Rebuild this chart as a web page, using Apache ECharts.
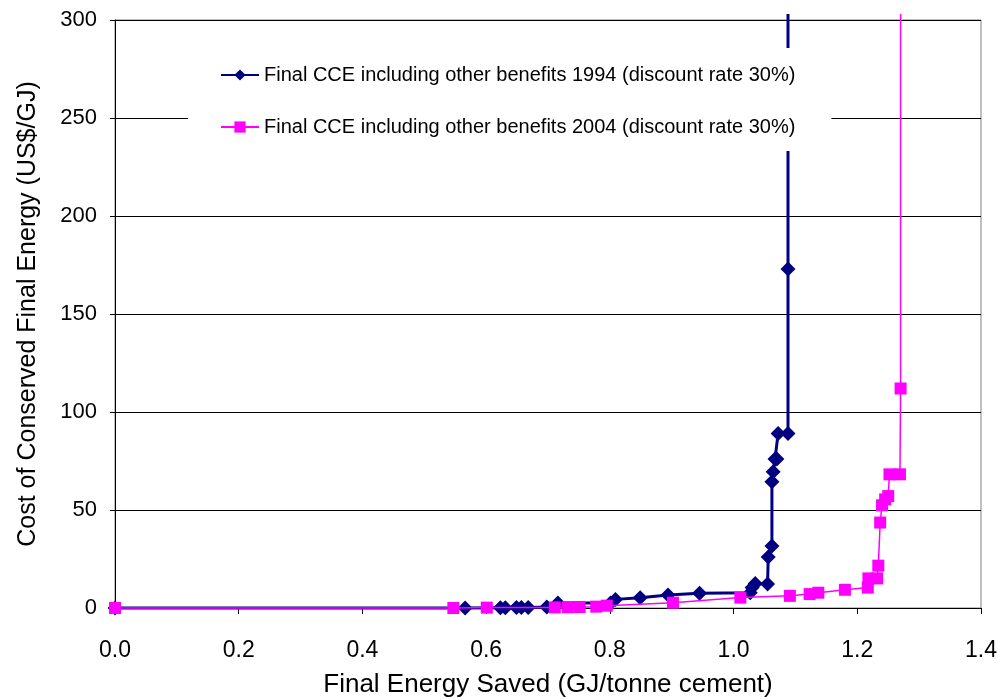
<!DOCTYPE html>
<html>
<head>
<meta charset="utf-8">
<script src="https://cdn.jsdelivr.net/npm/echarts@6/dist/echarts.min.js"></script>
<style>html,body{margin:0;padding:0;background:#fff}#c{width:1002px;height:700px}</style>
</head>
<body>
<div id="c"></div>
<script>
var seriesNames = ['Final CCE including other benefits 1994 (discount rate 30%)', 'Final CCE including other benefits 2004 (discount rate 30%)'];
var xTitle = 'Final Energy Saved (GJ/tonne cement)';
var yTitle = 'Cost of Conserved Final Energy (US$/GJ)';
var blueX = [0, 0.566, 0.623, 0.631, 0.649, 0.657, 0.668, 0.698, 0.716, 0.801, 0.809, 0.849, 0.894, 0.945, 1.027, 1.030, 1.035, 1.055, 1.056, 1.062, 1.062, 1.064, 1.067, 1.070, 1.072, 1.088, 1.088, 1.088];
var blueY = [0, 0, 0.1, 0.1, 0.2, 0.2, 0.3, 0.5, 2.5, 2.5, 4.4, 5.2, 6.6, 7.5, 7.8, 10.5, 12.5, 12.2, 26, 31.6, 64.4, 69.5, 76, 76, 89, 89, 173, 303];
var pinkX = [0, 0.547, 0.601, 0.711, 0.732, 0.751, 0.778, 0.795, 0.902, 1.011, 1.091, 1.123, 1.137, 1.180, 1.217, 1.218, 1.232, 1.234, 1.237, 1.240, 1.245, 1.250, 1.252, 1.269, 1.270, 1.270];
var pinkY = [0, 0, 0.2, 0.3, 0.4, 0.5, 0.7, 1.2, 2.7, 5.3, 6.2, 7.1, 7.8, 9.3, 10.4, 15.1, 15.1, 21.6, 43.6, 52.4, 55.4, 57.1, 68.2, 68.2, 112, 303];

function build(xs, ys) {
  return xs.map(function (x, i) {
    var item = { value: [x, ys[i]] };
    if (i === xs.length - 1) item.symbol = 'none';
    return item;
  });
}

var font = 'Liberation Sans, Arial, sans-serif';
var chart = echarts.init(document.getElementById('c'), null, { renderer: 'canvas' });
chart.setOption({
  animation: false,
  backgroundColor: '#fff',
  grid: { left: 115, top: 20, right: 21, bottom: 92, containLabel: false, outerBoundsMode: 'none', show: true, borderColor: '#808080', borderWidth: 1, backgroundColor: 'transparent' },
  legend: {
    orient: 'vertical',
    left: 188, top: 48,
    backgroundColor: '#fff',
    padding: [17, 36, 14, 32],
    itemGap: 32,
    itemWidth: 38, itemHeight: 14,
    textStyle: { fontFamily: font, fontSize: 20, lineHeight: 20, color: '#000' },
    data: seriesNames
  },
  xAxis: {
    type: 'value', min: 0, max: 1.4, interval: 0.2,
    name: xTitle, nameLocation: 'middle', nameGap: 64,
    nameTextStyle: { fontFamily: font, fontSize: 26, color: '#000' },
    axisLine: { show: true, lineStyle: { color: '#000', width: 1 } },
    axisTick: { show: true, inside: false, length: 6, lineStyle: { color: '#000' } },
    axisLabel: { fontFamily: font, fontSize: 23, color: '#000', margin: 31, formatter: function (v) { return v.toFixed(1); } },
    splitLine: { show: false }
  },
  yAxis: {
    type: 'value', min: 0, max: 300, interval: 50,
    name: yTitle, nameLocation: 'middle', nameGap: 74,
    nameTextStyle: { fontFamily: font, fontSize: 25, color: '#000' },
    axisLine: { show: true, lineStyle: { color: '#000', width: 1 } },
    axisTick: { show: true, inside: false, length: 5, lineStyle: { color: '#000' } },
    axisLabel: { fontFamily: font, fontSize: 22, color: '#000', margin: 18 },
    splitLine: { show: true, lineStyle: { color: '#000', width: 1 } }
  },
  series: [
    {
      name: seriesNames[0], type: 'line', clip: false,
      data: build(blueX, blueY),
      symbol: 'diamond', symbolSize: 15,
      lineStyle: { color: '#000080', width: 3 },
      itemStyle: { color: '#000080' },
      z: 3
    },
    {
      name: seriesNames[1], type: 'line', clip: false,
      data: build(pinkX, pinkY),
      symbol: 'rect', symbolSize: 12,
      lineStyle: { color: '#FF00FF', width: 1.5 },
      itemStyle: { color: '#FF00FF' },
      z: 4
    }
  ]
});
</script>
</body>
</html>
